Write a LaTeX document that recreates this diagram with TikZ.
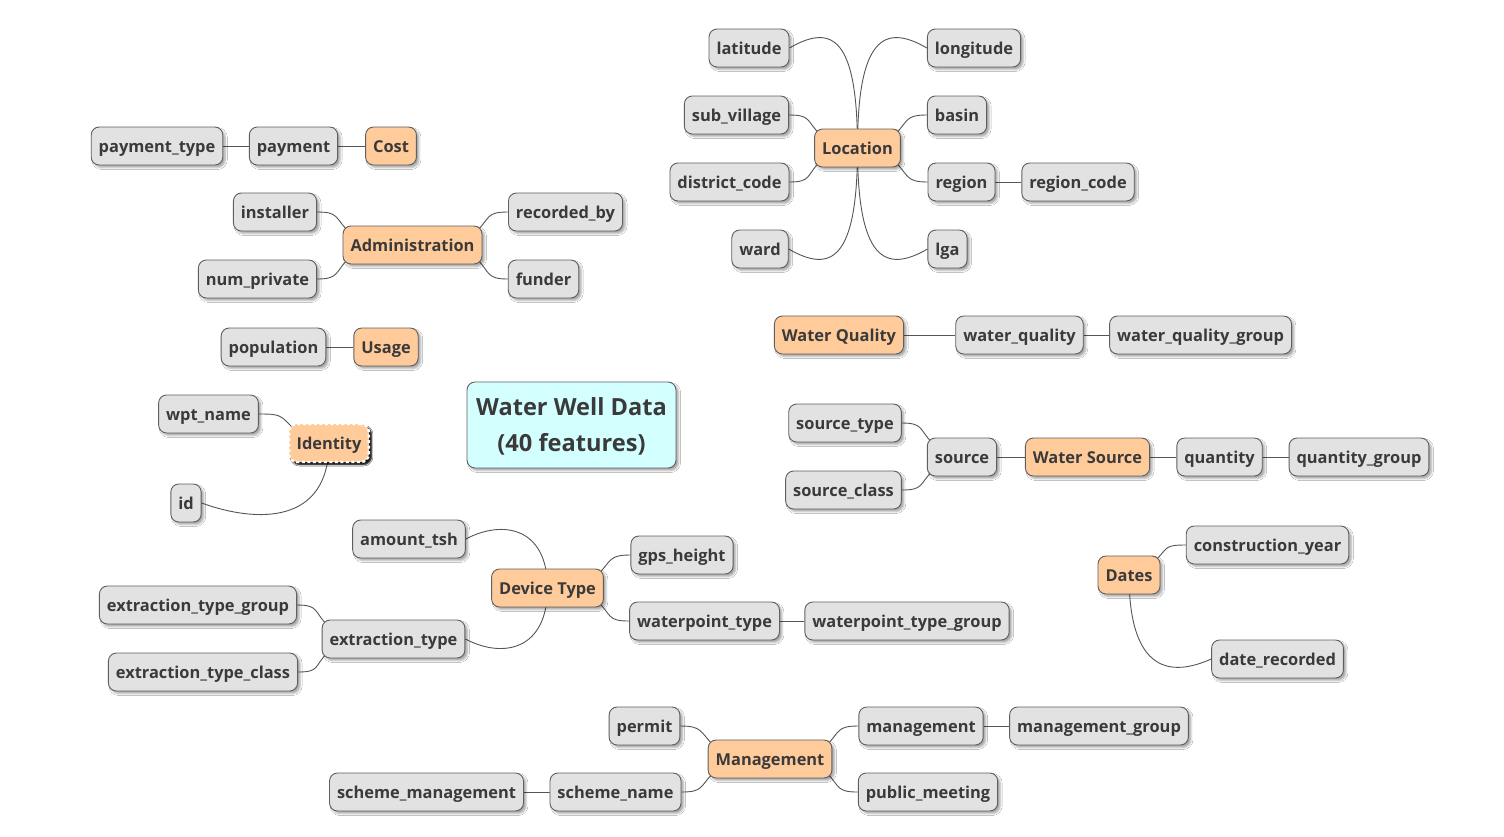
\documentclass[tikz,border=0pt]{standalone}
\usepackage{fontspec}
\setmainfont{Open Sans}
\usetikzlibrary{calc,backgrounds,shadows.blur}
\definecolor{gfill}{RGB}{226,226,226}
\definecolor{gline}{RGB}{95,95,95}
\definecolor{ofill}{RGB}{255,203,155}
\definecolor{cfill}{RGB}{212,255,255}
\definecolor{txt}{RGB}{58,58,58}
\definecolor{edgec}{RGB}{85,85,85}
\newcommand\cLU[2]{\draw[conn] (#1.east) .. controls +(22,0) and +(-14,-14) .. ($(#2.north west)+(6,6)$);}
\newcommand\cLD[2]{\draw[conn] (#1.east) .. controls +(22,0) and +(-14,14) .. ($(#2.south west)+(6,-6)$);}
\newcommand\cRU[2]{\draw[conn] (#1.west) .. controls +(-22,0) and +(14,-14) .. ($(#2.north east)+(-6,6)$);}
\newcommand\cRD[2]{\draw[conn] (#1.west) .. controls +(-22,0) and +(14,14) .. ($(#2.south east)+(-6,-6)$);}
\begin{document}
\begin{tikzpicture}[x=1pt,y=-1pt,
  base/.style={rounded corners=8pt, line width=0.9pt, text=txt,
    font=\bfseries\fontsize{16.4}{20}\selectfont, inner xsep=7.5pt, inner ysep=0pt,
    text height=15pt, text depth=3pt, minimum height=38pt,
    blur shadow={shadow xshift=2.5pt, shadow yshift=-2.5pt, shadow blur radius=2pt, shadow opacity=35}},
  leaf/.style={base, draw=gline, fill=gfill},
  topic/.style={base, draw=gline, fill=ofill},
  conn/.style={draw=edgec, line width=0.9pt}]
\useasboundingbox (0,0) rectangle (1504,836);

% root
\node[base, draw=gline, fill=cfill, minimum width=209pt, minimum height=86pt] (root) at (571.5,425) {};
\node[font=\bfseries\fontsize{23.6}{36}\selectfont, text=txt, align=center, inner sep=0pt] (roottext) at ($(root.center)+(0,1.5)$) {Water Well Data\\(40 features)};

% Location
\node[topic] (loc) at (857.5,148) {Location};
\node[leaf] (lat) at (749,48) {latitude};
\node[leaf] (lon) at (974,48) {longitude};
\node[leaf] (subv) at (736.5,115) {sub\_village};
\node[leaf] (basin) at (957,115) {basin};
\node[leaf] (dist) at (729.5,182) {district\_code};
\node[leaf] (region) at (961.5,182) {region};
\node[leaf] (regc) at (1078,182) {region\_code};
\node[leaf] (ward) at (760,249) {ward};
\node[leaf] (lga) at (947.5,249) {lga};

% Cost
\node[topic] (cost) at (391,146) {Cost};
\node[leaf] (pay) at (293.5,146) {payment};
\node[leaf] (payt) at (157,146) {payment\_type};

% Administration
\node[topic] (admin) at (412.5,245) {Administration};
\node[leaf] (inst) at (275,212) {installer};
\node[leaf] (nump) at (257.5,279) {num\_private};
\node[leaf] (recb) at (565.5,212) {recorded\_by};
\node[leaf] (fund) at (543.5,279) {funder};

% Usage
\node[topic] (usage) at (386,347) {Usage};
\node[leaf] (pop) at (273.5,347) {population};

% Identity
\node[base, fill=ofill, draw=white, line width=2.4pt, dash pattern=on 3pt off 2.5pt,
  blur shadow={shadow xshift=2.5pt, shadow yshift=-2.5pt, shadow blur radius=1.5pt, shadow opacity=75}] (ident) at (329,443) {Identity};
\node[leaf] (wpt) at (208.5,414) {wpt\_name};
\node[leaf] (id) at (186,503) {id};

% Water Quality
\node[topic] (wq) at (839,335) {Water Quality};
\node[leaf] (wqv) at (1019.5,335) {water\_quality};
\node[leaf] (wqg) at (1200.5,335) {water\_quality\_group};

% Water Source
\node[leaf] (srct) at (845,423) {source\_type};
\node[leaf] (src) at (962,457) {source};
\node[leaf] (srcc) at (843.5,490) {source\_class};
\node[topic] (ws) at (1087.5,457) {Water Source};
\node[leaf] (qty) at (1219.5,457) {quantity};
\node[leaf] (qtyg) at (1359,457) {quantity\_group};

% Device Type
\node[topic] (dev) at (547.5,588) {Device Type};
\node[leaf] (amt) at (409,539) {amount\_tsh};
\node[leaf] (gps) at (682,555) {gps\_height};
\node[leaf] (wpty) at (704.5,621) {waterpoint\_type};
\node[leaf] (wptg) at (907,621) {waterpoint\_type\_group};
\node[leaf] (et) at (393.5,639) {extraction\_type};
\node[leaf] (etg) at (198,605) {extraction\_type\_group};
\node[leaf] (etc) at (203,672) {extraction\_type\_class};

% Dates
\node[topic] (dates) at (1129,575) {Dates};
\node[leaf] (cy) at (1267.5,545) {construction\_year};
\node[leaf] (dr) at (1277.5,659) {date\_recorded};

% Management
\node[topic] (mgmt) at (770,759) {Management};
\node[leaf] (permit) at (644.5,726) {permit};
\node[leaf] (sn) at (615.5,792) {scheme\_name};
\node[leaf] (sm) at (426.5,792) {scheme\_management};
\node[leaf] (mg) at (921,726) {management};
\node[leaf] (mgg) at (1099,726) {management\_group};
\node[leaf] (pm) at (928,792) {public\_meeting};

\begin{pgfonlayer}{background}
\fill[white] (0,0) rectangle (1504,836);
% straight connectors
\draw[conn] (payt) -- (pay);
\draw[conn] (pay) -- (cost);
\draw[conn] (pop) -- (usage);
\draw[conn] (region) -- (regc);
\draw[conn] (wq) -- (wqv);
\draw[conn] (wqv) -- (wqg);
\draw[conn] (src) -- (ws);
\draw[conn] (ws) -- (qty);
\draw[conn] (qty) -- (qtyg);
\draw[conn] (wpty) -- (wptg);
\draw[conn] (sm) -- (sn);
\draw[conn] (mg) -- (mgg);
% short curves
\cLU{subv}{loc} \cLD{dist}{loc} \cRU{basin}{loc} \cRD{region}{loc}
\cLU{inst}{admin} \cLD{nump}{admin} \cRU{recb}{admin} \cRD{fund}{admin}
\cLU{wpt}{ident}
\cLU{srct}{src} \cLD{srcc}{src}
\cRU{gps}{dev} \cRD{wpty}{dev}
\cLU{etg}{et} \cLD{etc}{et}
\cRU{cy}{dates}
\cLU{permit}{mgmt} \cLD{sn}{mgmt} \cRU{mg}{mgmt} \cRD{pm}{mgmt}
% long curves
\draw[conn] (lat.east) .. controls +(43,-25) and +(0,-110) .. (loc.center);
\draw[conn] (ward.east) .. controls +(43,25) and +(0,111) .. (loc.center);
\draw[conn] (lon.west) .. controls +(-43,-25) and +(0,-110) .. (loc.center);
\draw[conn] (lga.west) .. controls +(-43,25) and +(0,111) .. (loc.center);
\draw[conn] (amt.east) .. controls +(38,-20) and +(0,-60) .. (dev.center);
\draw[conn] (et.east) .. controls +(38,20) and +(0,62) .. (dev.center);
\draw[conn] (id.east) .. controls +(55,20) and +(0,82) .. (ident.center);
\draw[conn] (dr.west) .. controls +(-40,18) and +(0,98) .. (dates.center);
\end{pgfonlayer}
\end{tikzpicture}
\end{document}
